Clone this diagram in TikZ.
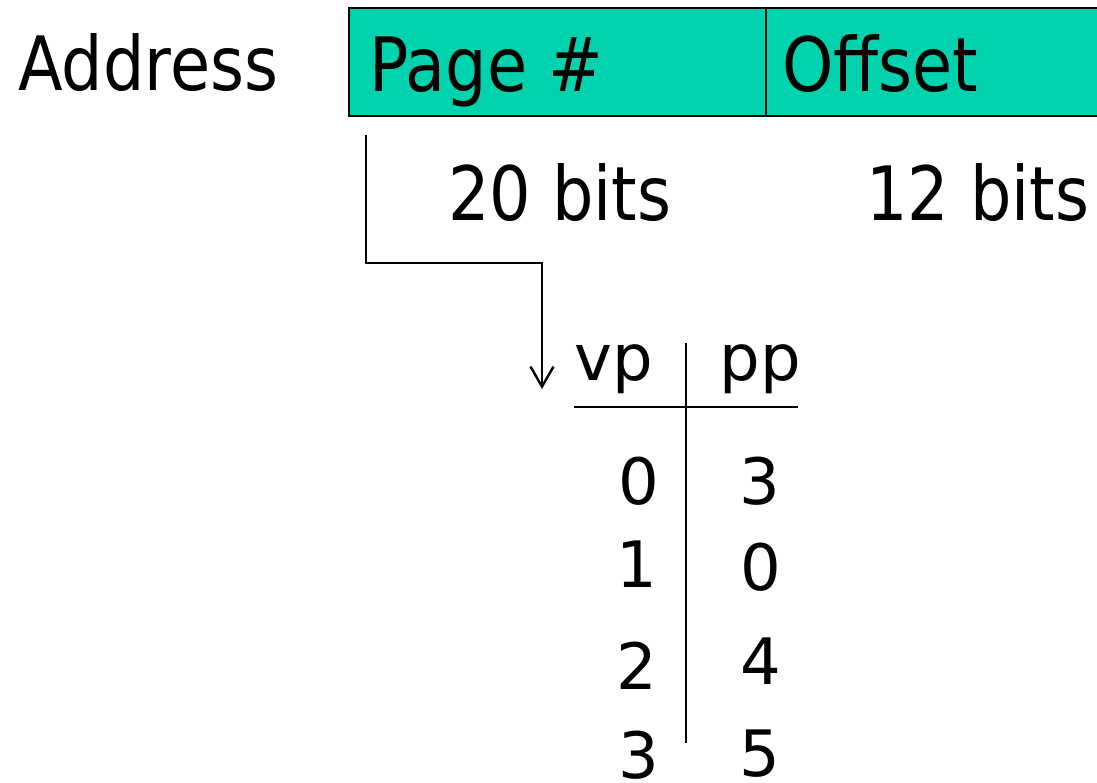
\documentclass[tikz,border=0pt]{standalone}
\usepackage{fontspec}
\setmainfont{DejaVu Sans}[FakeStretch=0.87]
\newfontfamily\tabfont{DejaVu Sans}
\usetikzlibrary{arrows.meta}
\definecolor{fieldfill}{RGB}{0,210,174}
\tikzset{
  big/.style={inner sep=0pt, font=\fontsize{37.5}{40}\selectfont},
  tab/.style={inner sep=0pt, font=\tabfont\fontsize{32}{34}\selectfont},
  field/.style={draw=black, line width=1.2pt, fill=fieldfill},
  rule/.style={draw=black, line width=1.2pt},
}
\begin{document}
\begin{tikzpicture}[x=0.5pt, y=-0.5pt]
\useasboundingbox (0,0) rectangle (1097,782);
% address fields
\draw[field] (349,8) rectangle (766,116);
\draw[field] (766,8) rectangle (1104,116);
\node[big, anchor=base west] (addr) at (18,90) {Address};
\node[big, anchor=base west] (page) at (369,91) {Page \#};
\node[big, anchor=base west] (off) at (782,91) {Offset};
\node[big, anchor=base west] (b20) at (448,220) {20 bits};
\node[big, anchor=base west] (b12) at (866,220) {12 bits};
% table
\node[tab, anchor=base west] (vp) at (574,380) {vp};
\node[tab, anchor=base west] (pp) at (719,380) {pp};
\coordinate (hl) at (574,407);
\coordinate (hr) at (798,407);
\coordinate (vt) at (686,343);
\coordinate (vb) at (686,743);
\draw[rule] (hl) -- (hr);
\draw[rule] (vt) -- (vb);
\node[tab, anchor=base east] (v0) at (660,504) {0};
\node[tab, anchor=base east] (v1) at (658,587) {1};
\node[tab, anchor=base east] (v2) at (658,689) {2};
\node[tab, anchor=base east] (v3) at (660,778) {3};
\node[tab, anchor=base east] (p0) at (781,504) {3};
\node[tab, anchor=base east] (p1) at (782,590) {0};
\node[tab, anchor=base east] (p2) at (782,684) {4};
\node[tab, anchor=base east] (p3) at (781,776) {5};
% connector
\coordinate (cs) at (366,135);
\coordinate (ct) at (542,389);
\draw[rule, -{Straight Barb[length=10pt, width=11.5pt, line width=1.2pt]}] (cs) |- (542,263) -- (ct);
\end{tikzpicture}
\end{document}
